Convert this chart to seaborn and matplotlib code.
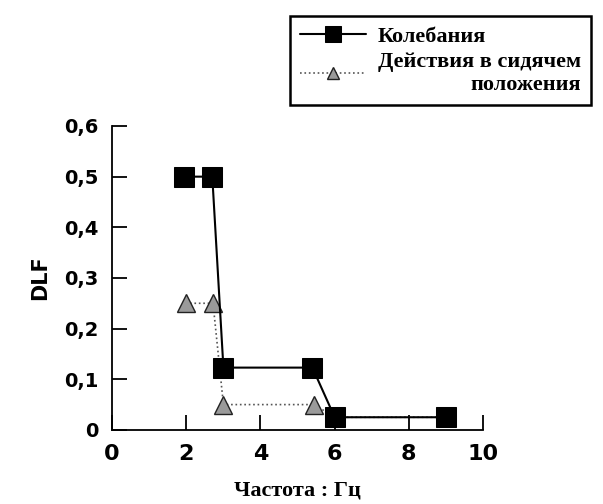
import matplotlib
matplotlib.use("Agg")
import matplotlib.pyplot as plt
import seaborn as sns
import pandas as pd

# данные
freq_kol = [1.95, 2.7, 3.0, 5.4, 6.0, 9.0]
dlf_kol = [0.5, 0.5, 0.123, 0.123, 0.025, 0.025]

freq_sid = [1.98, 2.72, 3.0, 5.45, 6.0, 9.0]
dlf_sid = [0.25, 0.25, 0.05, 0.05, 0.025, 0.025]

label_kol = "Колебания"
label_sid = "Действия в сидячем\nположения"

x_ticks = [0, 2, 4, 6, 8, 10]
y_ticks = [0, 0.1, 0.2, 0.3, 0.4, 0.5, 0.6]
y_tick_labels = ["0", "0,1", "0,2", "0,3", "0,4", "0,5", "0,6"]

df_kol = pd.DataFrame({"f": freq_kol, "dlf": dlf_kol})
df_sid = pd.DataFrame({"f": freq_sid, "dlf": dlf_sid})

sns.set_style("ticks", {"text.color": "black", "axes.labelcolor": "black",
                        "xtick.color": "black", "ytick.color": "black",
                        "axes.edgecolor": "black"})
plt.rcParams["font.family"] = ["DejaVu Sans"]
serif = ["Liberation Serif", "DejaVu Serif"]

fig = plt.figure(figsize=(6.03, 5.04), dpi=100)
ax = fig.add_axes([0.186, 0.147, 0.615, 0.603])

sns.lineplot(data=df_sid, x="f", y="dlf", ax=ax, sort=False, estimator=None,
             color="#555555", linestyle=":", linewidth=1.2, marker="^",
             markersize=13, markerfacecolor="#9a9a9a", markeredgecolor="#222222",
             markeredgewidth=1.0, label=label_sid)
sns.lineplot(data=df_kol, x="f", y="dlf", ax=ax, sort=False, estimator=None,
             color="black", linewidth=1.5, marker="s", markersize=15,
             markerfacecolor="black", markeredgecolor="black", label=label_kol)

handles, labels = ax.get_legend_handles_labels()
if ax.get_legend() is not None:
    ax.get_legend().remove()

ax.set_xlim(0, 10)
ax.set_ylim(0, 0.6)
ax.set_xticks(x_ticks)
ax.set_xticklabels([str(t) for t in x_ticks])
ax.set_yticks(y_ticks)
ax.set_yticklabels(y_tick_labels)
ax.tick_params(direction="in", length=11, width=1.3, colors="black")
ax.tick_params(axis="y", labelsize=14, pad=10)
ax.tick_params(axis="x", labelsize=16, pad=10)
for lbl in ax.get_xticklabels() + ax.get_yticklabels():
    lbl.set_fontweight("bold")
sns.despine(ax=ax)
for s in ["left", "bottom"]:
    ax.spines[s].set_linewidth(1.3)
    ax.spines[s].set_color("black")
for line in ax.lines:
    line.set_clip_on(False)

ax.set_ylabel("DLF", fontsize=15, fontweight="bold", labelpad=10, color="black")
ax.set_xlabel("Частота : Гц", fontsize=16, fontweight="bold",
              family=serif, labelpad=12, color="black")

order = [labels.index(label_kol), labels.index(label_sid)]
leg = fig.legend([handles[i] for i in order], [labels[i] for i in order],
                 loc="upper right", bbox_to_anchor=(0.998, 0.99),
                 frameon=True, fancybox=False, edgecolor="black", framealpha=1,
                 prop={"family": serif, "weight": "bold", "size": 16},
                 handlelength=3.0, handletextpad=0.5, borderpad=0.45,
                 labelspacing=0.25)
leg.get_frame().set_linewidth(1.8)
for t in leg.get_texts():
    t.set_multialignment("right")
    t.set_color("black")
leg.legend_handles[0].set_markersize(11)
leg.legend_handles[1].set_markersize(9)

fig.savefig("out.png", dpi=100)
